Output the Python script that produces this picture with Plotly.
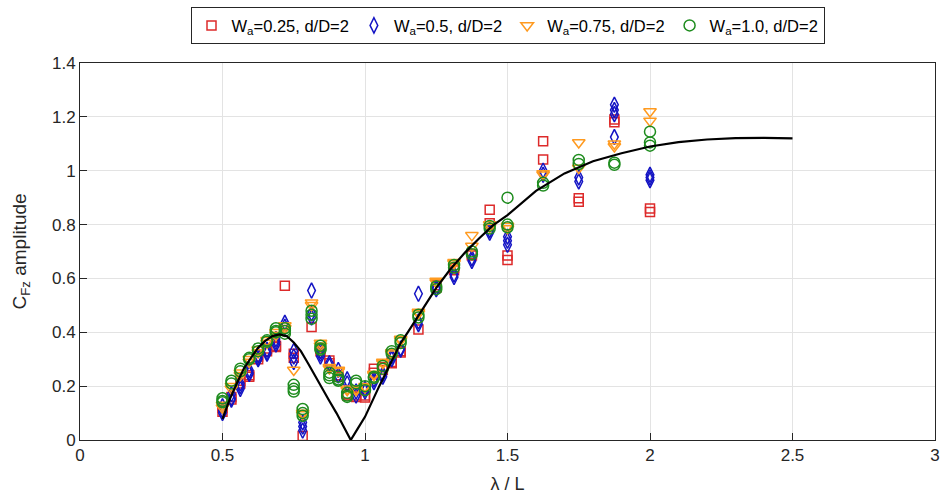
import plotly.graph_objects as go

# Wavelength ratios at which the force coefficient was measured
lam = [0.5, 0.53125, 0.5625, 0.59375, 0.625, 0.65625, 0.6875, 0.71875, 0.75,
       0.78125, 0.8125, 0.84375, 0.875, 0.90625, 0.9375, 0.96875, 1.0, 1.03125,
       1.0625, 1.09375, 1.125, 1.1875, 1.25, 1.3125, 1.375, 1.4375, 1.5, 1.625,
       1.75, 1.875, 2.0]

# Repeated runs of C_Fz amplitude at each wavelength, one list per wave steepness
cfz_w025 = [[0.12, 0.105], [0.16, 0.15], [0.22, 0.21], [0.24, 0.235], [0.30, 0.31],
            [0.33, 0.34], [0.35, 0.345], [0.573], [0.32, 0.305], [0.015], [0.42],
            [0.34, 0.33], [0.295, 0.285], [0.24, 0.235], [0.17, 0.165], [0.16, 0.165],
            [0.158, 0.165], [0.265, 0.25], [0.27, 0.26], [0.29, 0.285], [0.325, 0.33],
            [0.41], [0.565, 0.575], [0.64, 0.63], [0.69, 0.685], [0.855, 0.805],
            [0.685, 0.668], [1.109, 1.042], [0.898, 0.885], [1.19, 1.18], [0.86, 0.847]]

cfz_w05 = [[0.125, 0.11, 0.1], [0.17, 0.155, 0.15], [0.21, 0.2, 0.19], [0.26, 0.25, 0.245],
           [0.315, 0.305, 0.3], [0.335, 0.325, 0.32], [0.375, 0.365, 0.355], [0.435, 0.42],
           [0.33, 0.31, 0.29], [0.065, 0.05, 0.035], [0.555, 0.47, 0.455], [0.33, 0.32, 0.31],
           [0.285, 0.275], [0.26, 0.24], [0.225, 0.21], [0.18, 0.165], [0.19, 0.18],
           [0.225, 0.215], [0.245, 0.235], [0.31, 0.3], [0.34, 0.335], [0.543, 0.44, 0.43],
           [0.565, 0.56], [0.615, 0.605], [0.675, 0.665], [0.78, 0.77], [0.755, 0.74, 0.725],
           [1.0, 0.985], [0.975, 0.96], [1.245, 1.225, 1.21, 1.125], [0.985, 0.975, 0.965]]

cfz_w075 = [[0.13, 0.12], [0.2, 0.19], [0.25, 0.24], [0.3, 0.29], [0.335, 0.325],
            [0.37, 0.36], [0.4, 0.39], [0.425, 0.415], [0.26], [0.1, 0.095], [0.51, 0.5],
            [0.36, 0.35], [0.27, 0.265], [0.26, 0.255], [0.19, 0.185], [0.19, 0.185],
            [0.2, 0.195], [0.245, 0.24], [0.29, 0.285], [0.325, 0.32], [0.375, 0.37],
            [0.475, 0.47], [0.59, 0.585], [0.66, 0.655], [0.76, 0.72], [0.8, 0.79],
            [0.795, 0.785], [0.99, 0.985], [1.105, 1.01], [1.1, 1.09], [1.22, 1.185]]

cfz_w10 = [[0.155, 0.145, 0.14], [0.22, 0.21], [0.265, 0.255], [0.305, 0.3], [0.34, 0.33],
           [0.37, 0.365], [0.415, 0.405, 0.4], [0.415, 0.405, 0.395], [0.205, 0.19, 0.18],
           [0.115, 0.1, 0.09], [0.48, 0.465, 0.45], [0.35, 0.34, 0.335], [0.25, 0.24, 0.23],
           [0.235, 0.225, 0.22], [0.175, 0.165, 0.16], [0.22, 0.21], [0.2, 0.185],
           [0.235, 0.23], [0.275, 0.265], [0.33, 0.32], [0.37, 0.36], [0.465, 0.455],
           [0.57, 0.56], [0.65, 0.64], [0.7, 0.69], [0.795, 0.785], [0.9, 0.8, 0.79],
           [0.955, 0.945], [1.04, 1.025], [1.03, 1.022], [1.145, 1.105, 1.093]]

# Reference prediction curve
curve_lam = [0.5, 0.525, 0.55, 0.575, 0.6, 0.625, 0.65, 0.675, 0.7, 0.725, 0.75, 0.775,
             0.8, 0.825, 0.85, 0.875, 0.9, 0.925, 0.95, 0.975, 1.0, 1.05, 1.1, 1.125, 1.15,
             1.2, 1.25, 1.3, 1.35, 1.4, 1.45, 1.5, 1.6, 1.7, 1.8, 1.9, 2.0, 2.1, 2.2, 2.3,
             2.4, 2.5]
curve_cfz = [0.078, 0.15, 0.21, 0.265, 0.305, 0.343, 0.368, 0.386, 0.392, 0.386, 0.362,
             0.33, 0.285, 0.237, 0.19, 0.145, 0.10, 0.05, 0.0, 0.043, 0.086, 0.2, 0.31,
             0.36, 0.4, 0.485, 0.565, 0.635, 0.695, 0.748, 0.798, 0.835, 0.925, 0.99,
             1.035, 1.065, 1.09, 1.106, 1.116, 1.121, 1.122, 1.12]

series = [
    ("W<sub>a</sub>=0.25, d/D=2", cfz_w025, "square-open", "#dd2a2a", 9),
    ("W<sub>a</sub>=0.5, d/D=2", cfz_w05, "diamond-tall-open", "#1414c4", 11),
    ("W<sub>a</sub>=0.75, d/D=2", cfz_w075, "triangle-down-open", "#ff9a1f", 11),
    ("W<sub>a</sub>=1.0, d/D=2", cfz_w10, "circle-open", "#1e8c1e", 11),
]

FONT = "Liberation Sans, Arial, Helvetica, sans-serif"
AX = "#262626"

fig = go.Figure()
for name, runs, symbol, color, size in series:
    xs, ys = [], []
    for x, vals in zip(lam, runs):
        for v in vals:
            xs.append(x)
            ys.append(v)
    fig.add_trace(go.Scatter(
        x=xs, y=ys, mode="markers", name=name,
        marker=dict(symbol=symbol, size=size, color=color,
                    line=dict(color=color, width=1.5)),
    ))

fig.add_trace(go.Scatter(
    x=curve_lam, y=curve_cfz, mode="lines", showlegend=False,
    line=dict(color="black", width=2.2),
))

axis_common = dict(
    showline=True, linecolor=AX, linewidth=1, mirror=True,
    ticks="inside", ticklen=7, tickcolor=AX, tickwidth=1,
    showgrid=True, gridcolor="#e3e3e3", gridwidth=1,
    zeroline=False,
    tickfont=dict(family=FONT, size=17, color=AX),
)

fig.update_layout(
    width=947, height=502,
    margin=dict(l=80, r=7, t=62, b=62),
    paper_bgcolor="white", plot_bgcolor="white",
    font=dict(family=FONT, color=AX),
    xaxis=dict(range=[0, 3], tickvals=[0, 0.5, 1, 1.5, 2, 2.5, 3],
               title=dict(text="λ / L", font=dict(family=FONT, size=18, color=AX),
                          standoff=12),
               **axis_common),
    yaxis=dict(range=[0, 1.4], tickvals=[0, 0.2, 0.4, 0.6, 0.8, 1, 1.2, 1.4],
               title=dict(text="C<sub>Fz</sub> amplitude",
                          font=dict(family=FONT, size=19, color=AX), standoff=20),
               **axis_common),
    legend=dict(orientation="h", x=0.5, xanchor="center", y=1.148, yanchor="top",
                bgcolor="white", bordercolor=AX, borderwidth=1,
                font=dict(family=FONT, size=16.5, color="black"),
                itemwidth=30, tracegroupgap=0),
)

fig.write_html("out.html")
